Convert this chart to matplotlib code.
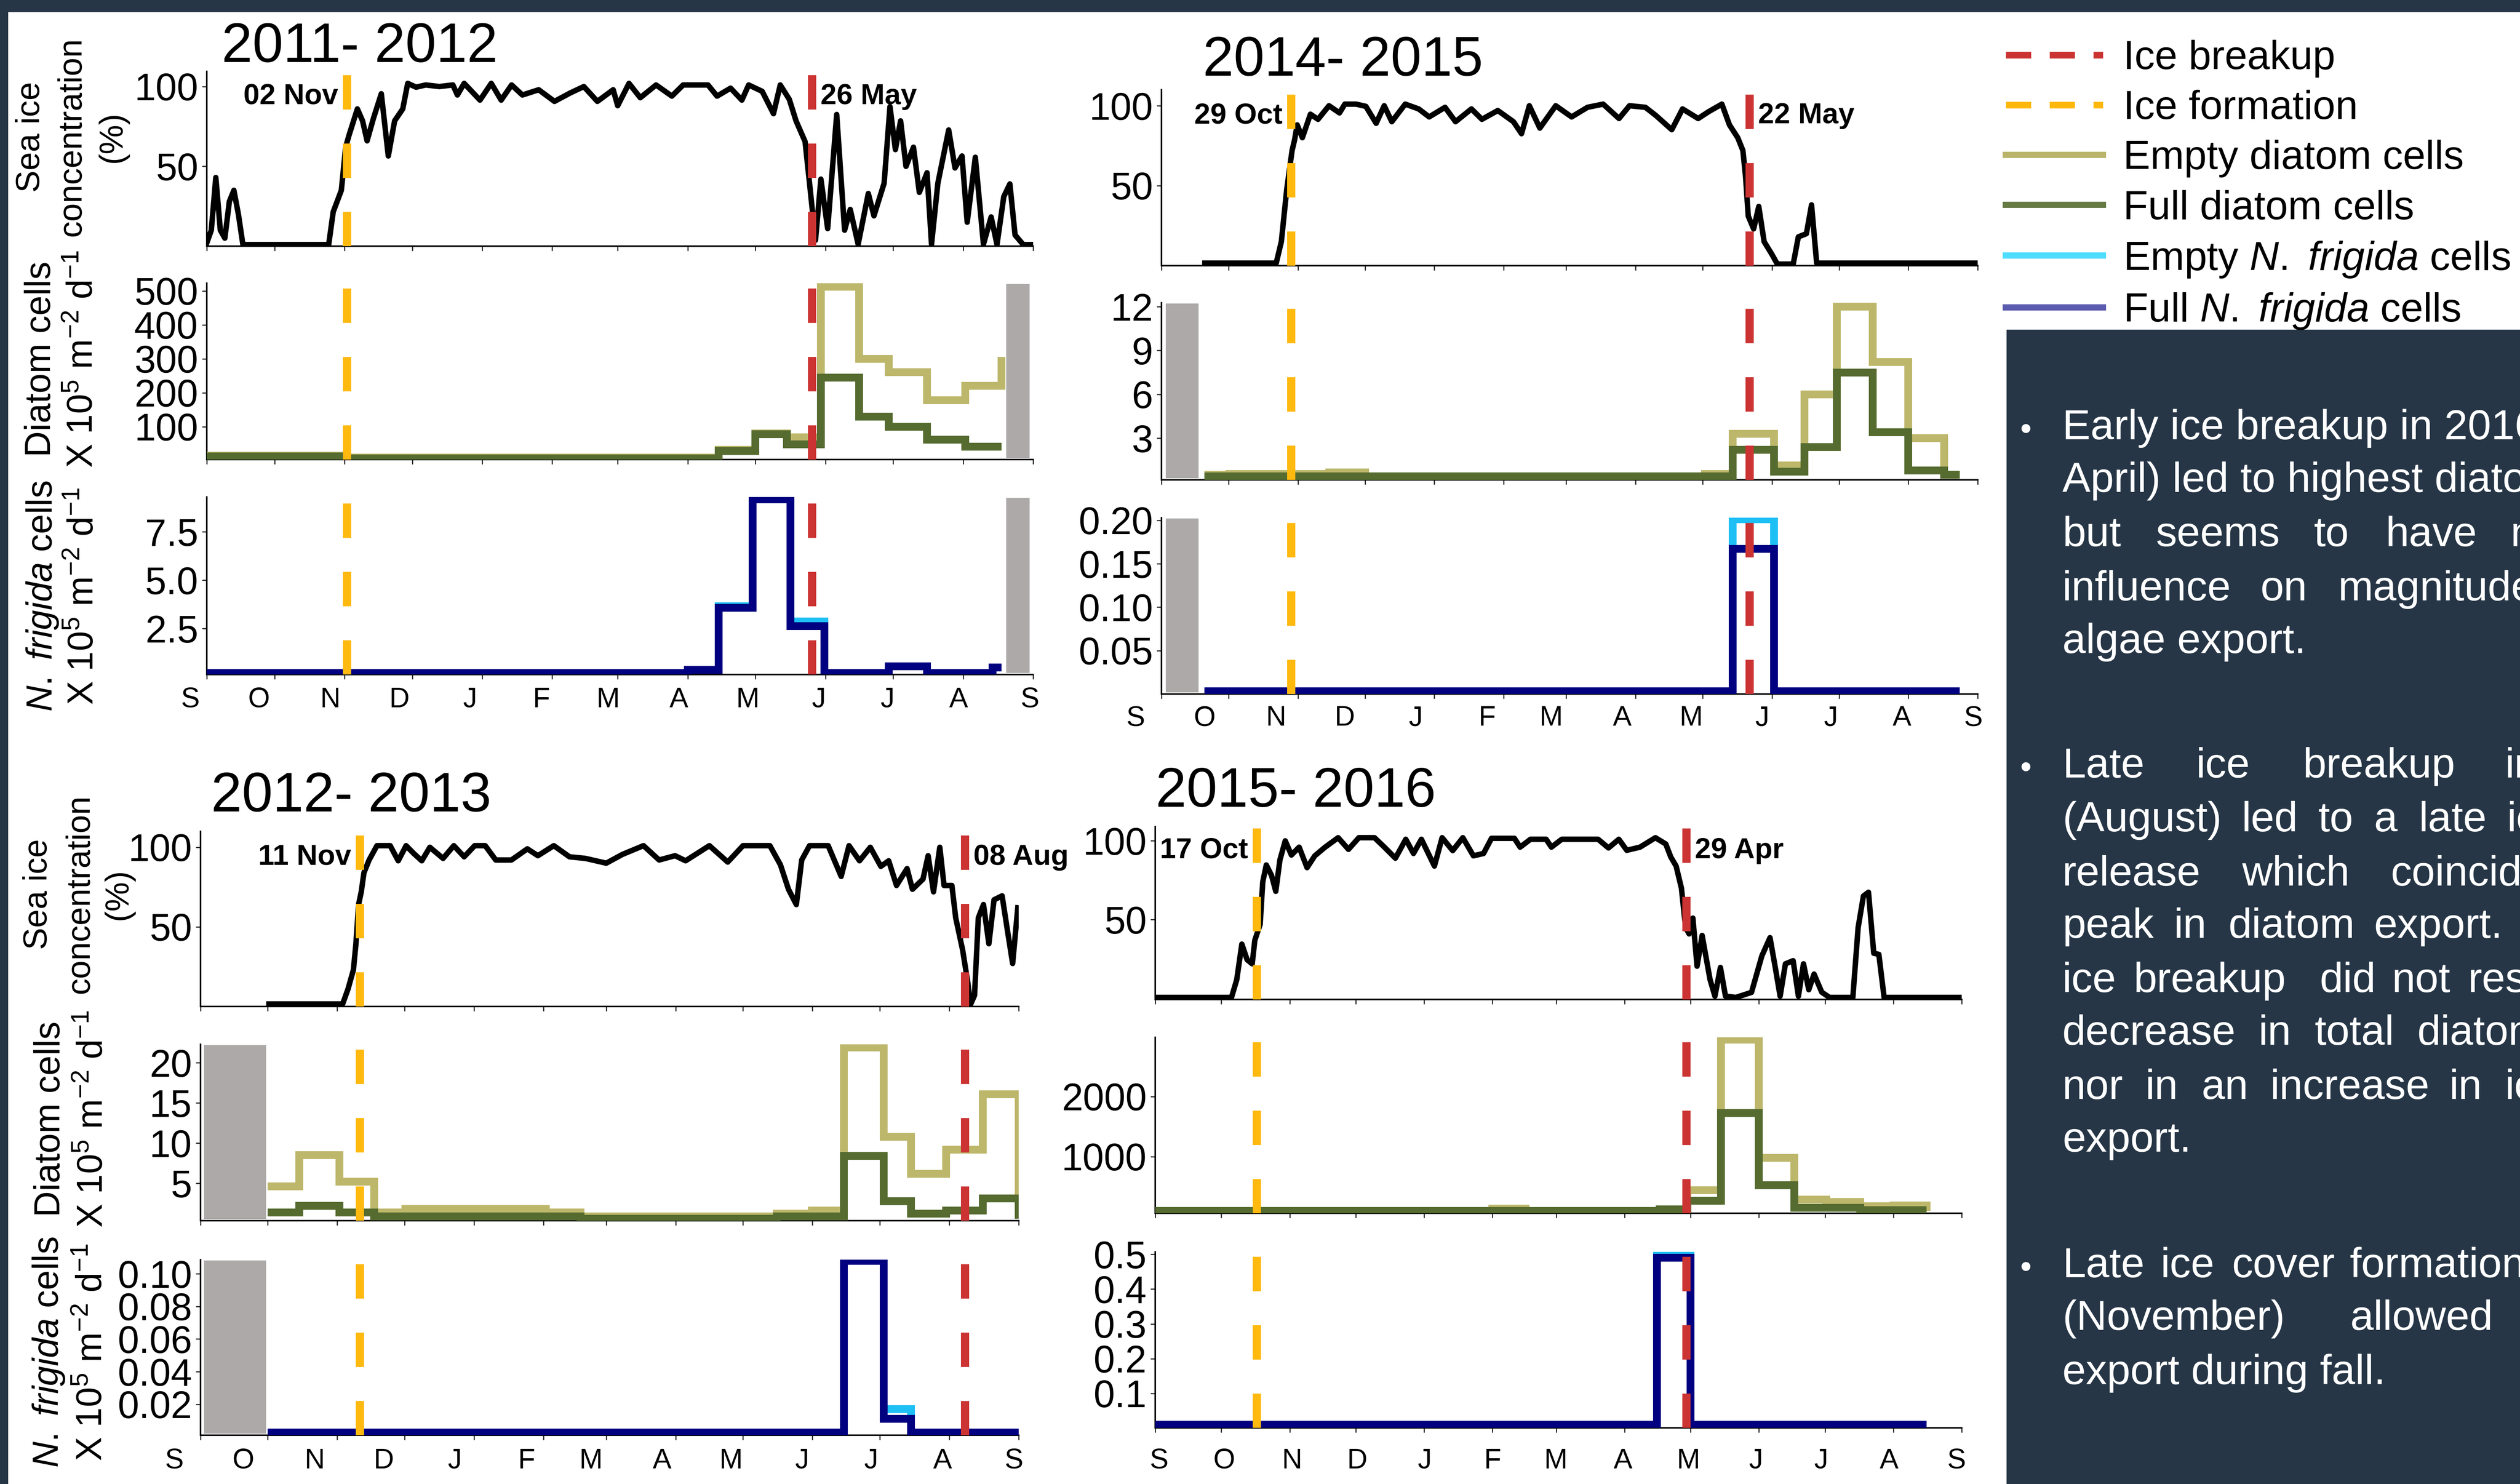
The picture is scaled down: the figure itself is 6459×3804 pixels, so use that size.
import datetime as dt
import matplotlib
matplotlib.use("Agg")
import matplotlib.pyplot as plt
from matplotlib.lines import Line2D
from matplotlib.patches import Rectangle

W, H, DPI = 6459, 3804, 72
plt.rcParams.update({
    'font.family': ['Liberation Sans', 'DejaVu Sans'],
    'mathtext.fontset': 'custom',
    'mathtext.rm': 'Liberation Sans',
    'mathtext.it': 'Liberation Sans:italic',
    'mathtext.bf': 'Liberation Sans:bold',
})

# ------------------------------------------------------------------ data
season_titles = ['2011- 2012', '2014- 2015', '2012- 2013', '2015- 2016']
season_start = [2011, 2014, 2012, 2015]
month_letters = ['S', 'O', 'N', 'D', 'J', 'F', 'M', 'A', 'M', 'J', 'J', 'A', 'S']

formation_dates = ['2011-11-02', '2014-10-29', '2012-11-11', '2015-10-17']
breakup_dates = ['2012-05-26', '2015-05-22', '2013-08-08', '2016-04-29']
formation_labels = ['02 Nov', '29 Oct', '11 Nov', '17 Oct']
breakup_labels = ['26 May', '22 May', '08 Aug', '29 Apr']

# sea ice concentration (%): (days since 1 Sep, value)
ice_2011 = [(0, 2), (2, 10), (4, 43), (6, 10), (8, 5), (10, 28), (12, 35), (14, 20), (16, 1), (54, 1),
            (56, 21.5), (59.6, 35), (61.5, 62), (63, 69.5), (66.7, 86), (69, 78.5), (71, 66), (73.8, 80),
            (77.3, 95.5), (80.4, 56.5), (83.2, 78.5), (86.8, 86), (89, 102), (92.7, 99.6), (97, 101),
            (103, 100), (109, 101), (111, 94.7), (114, 102), (121, 91.5), (126, 102), (130.4, 91.5),
            (135, 101), (139.8, 94.7), (147, 98), (154, 90.7), (161, 96), (167, 100), (173, 90.7),
            (180, 98), (182, 88), (187, 102), (192, 93), (199, 101), (206, 94), (211, 101), (216, 101),
            (222, 101), (226, 94), (232, 99), (237, 91.5), (240, 101), (246, 97), (251, 83), (254, 101),
            (258, 92), (261, 78.5), (265, 65.5), (267, 39), (269.6, 3.7), (272, 42), (275, 11),
            (279, 82.5), (282.5, 10), (285, 23), (288.5, 1.2), (293, 33), (295.5, 19), (300, 39.4),
            (302.6, 87.4), (305, 60.5), (307.3, 78.5), (309.7, 50), (313, 62), (315.6, 33.7), (319, 46),
            (321, 1.2), (323.8, 39.4), (328.6, 72.8), (331.4, 49), (334.5, 56.5), (336.8, 15),
            (340.4, 55.7), (344, 1.2), (347.4, 18.3), (350, 1), (353, 31), (355.7, 39), (358, 7),
            (361.6, 1), (366, 1)]
ice_2014 = [(19.4, 1.6), (51.3, 1.6), (53.6, 15), (56, 47.5), (58.4, 72), (59.5, 78.5), (60.7, 88),
            (63, 80), (66.6, 94.7), (70, 91.5), (74.9, 100), (79.6, 95.5), (82, 101), (87, 101),
            (91.4, 99.6), (96, 89), (99.6, 100), (103, 90), (109, 101), (115, 98), (119.7, 93),
            (126.8, 99), (131.5, 90), (138.6, 98), (143.3, 91.5), (150.4, 97), (157.4, 90), (161, 82.5),
            (164.5, 100), (169.2, 86), (176.3, 100), (183.4, 93), (190.5, 99), (197.5, 101), (204.6, 92),
            (209.3, 100), (216.4, 99), (221, 94), (228.2, 85), (233, 98), (240, 92), (244.7, 96.3),
            (250.6, 101), (254, 88), (257.7, 80), (260, 72), (261.2, 55.7), (262.4, 31), (264.8, 23),
            (267.1, 37), (269.5, 15), (273, 7), (275.4, 1), (282.5, 1), (284.8, 18), (288.4, 20),
            (290.7, 38), (293, 1.6), (365, 1.6)]
ice_2012 = [(30.5, 1.6), (63.4, 1.6), (65.8, 11), (68.2, 23), (69.3, 39), (70.5, 64), (71.7, 72),
            (72.9, 84), (75.2, 92), (78.7, 101), (84.6, 101), (88.2, 91.5), (91.7, 101), (95.2, 96),
            (98.7, 91.5), (102.3, 100), (108.2, 93), (113, 101), (117.6, 94), (122.3, 101), (127, 101),
            (131.7, 92), (138.7, 92), (145.8, 99), (150.5, 94.7), (157.6, 101), (164.6, 94), (171.7, 93),
            (181, 90), (188.2, 95.5), (197.6, 101), (204.6, 92), (211.7, 94.7), (216.4, 91.5), (227, 101),
            (235.2, 90.7), (242, 101), (254, 101), (258.7, 89), (262.3, 73.6), (265.8, 64), (268.2, 92),
            (271.7, 101), (280, 101), (285.8, 81.7), (289.3, 101), (294, 91.5), (298.8, 100), (303.5, 88),
            (307, 91.5), (310.5, 76), (315.2, 86.6), (317.6, 73.6), (322.3, 80), (324.6, 94.7), (327, 72),
            (329.8, 100), (331.7, 76), (335.2, 76), (336.9, 55.7), (340, 35.4), (342.3, 15), (343.5, 1.2),
            (345.3, 7), (347, 55.7), (349.3, 64), (351.7, 39.4), (354, 67), (357.6, 69.5), (360, 47.6),
            (362.3, 27), (364.6, 62)]
ice_2015 = [(0, 0.7), (34.6, 0.7), (37, 12), (39.3, 34.5), (41.7, 24.6), (44, 22), (45.2, 37), (47.6, 47),
            (48.8, 74), (50.4, 84.7), (52.8, 78), (54.7, 68), (56.6, 88), (59, 100), (61.8, 91),
            (65.3, 96), (68.9, 83), (72.4, 90.5), (77.1, 96), (83, 102), (87.7, 94.6), (92.4, 102),
            (99.5, 102), (104, 96), (109, 89), (113.7, 101), (117.2, 92), (120.8, 101), (126.7, 84),
            (130.2, 102), (135, 93.8), (139.6, 102), (144.4, 90.5), (149, 92), (152.6, 101.6),
            (163, 101.6), (165.6, 96), (170.3, 101), (177.4, 101), (179.8, 96), (184.5, 101), (201, 101),
            (205.7, 95.5), (210.4, 101), (214, 94), (220, 96), (227, 102), (231.7, 98), (234, 89.7),
            (236.4, 84), (238.8, 70), (240.7, 45), (242.3, 41), (244, 51), (245.9, 20.5), (248.2, 40),
            (251.8, 12), (254, 1.5), (256.5, 19.7), (258.8, 1.5), (263.5, 0.7), (270.6, 3.9), (275.3, 27),
            (279, 38.6), (281.3, 20.5), (283.6, 1.5), (286, 22), (289.5, 24), (291.9, 1.5), (294.2, 22),
            (296.6, 5.6), (299, 15.5), (302.5, 4), (306, 0.7), (316.6, 0.7), (319, 45), (321.4, 65),
            (323.7, 67.4), (326.1, 28.7), (328.4, 28), (330.8, 0.7), (366, 0.7)]

# sediment trap sample start days (since 1 Sep) and fluxes (x 10^5 cells m-2 d-1)
diatom_days_2011 = [0, 62, 226.7, 243, 257, 272, 289, 302, 319, 336, 352]
diatom_empty_2011 = [14, 9, 32, 80, 69, 513, 300, 261, 178, 221, 306]
diatom_full_2011 = [12, 7, 28, 78, 48, 245, 130, 100, 62, 41, 41]
diatom_days_2014 = [19.2, 30.4, 75, 91, 243, 255.5, 274, 287.6, 302, 318, 334, 350, 357]
diatom_empty_2014 = [0.5, 0.55, 0.65, 0.4, 0.55, 3.3, 1.13, 6.0, 12.0, 8.2, 3.0, 0.5, 0.5]
diatom_full_2014 = [0.4, 0.4, 0.4, 0.4, 0.4, 2.2, 0.7, 2.4, 7.5, 3.4, 0.8, 0.5, 0.5]
diatom_days_2012 = [30, 44, 62, 77.4, 91.4, 154, 169.5, 257, 272.7, 287, 304.7, 317, 332.7, 349, 365]
diatom_empty_2012 = [4.6, 8.5, 5.2, 1.35, 1.8, 1.35, 0.9, 1.2, 1.6, 21.9, 10.8, 6.2, 9.2, 16.1, 1.0]
diatom_full_2012 = [1.35, 2.2, 1.35, 0.9, 0.9, 0.9, 0.6, 0.9, 0.9, 8.4, 2.8, 1.2, 1.6, 3.1, 0.6]
diatom_days_2015 = [0, 153, 168, 229, 241.5, 256.7, 274, 290, 304.6, 320, 335, 350]
diatom_empty_2015 = [94, 134, 94, 120, 441, 2945, 976, 283, 244, 173, 189, 100]
diatom_full_2015 = [94, 94, 94, 120, 268, 1724, 528, 150, 150, 110, 110, 110]

frig_days_2011 = [0, 213, 226.7, 241.8, 258.5, 273.6, 302, 319, 348, 352]
frig_empty_2011 = [0.2, 0.36, 3.65, 9.17, 2.86, 0.2, 0.55, 0.2, 0.48, 0.48]
frig_full_2011 = [0.2, 0.36, 3.57, 9.17, 2.62, 0.2, 0.55, 0.2, 0.48, 0.48]
frig_days_2014 = [19.2, 255.5, 274, 357]
frig_empty_2014 = [0.003, 0.201, 0.003, 0.003]
frig_full_2014 = [0.003, 0.167, 0.003, 0.003]
frig_days_2012 = [30, 287, 304.7, 317, 365]
frig_empty_2012 = [0.0026, 0.108, 0.017, 0.0026, 0.0026]
frig_full_2012 = [0.0026, 0.108, 0.011, 0.0026, 0.0026]
frig_days_2015 = [0, 227.7, 243, 350]
frig_empty_2015 = [0.01, 0.5, 0.01, 0.01]
frig_full_2015 = [0.01, 0.49, 0.01, 0.01]

# periods without trap data (days since 1 Sep)
no_data = [(354, 364.5), (2, 16.6), (1.6, 29.2), None]

dia_ticks = [[100, 200, 300, 400, 500], [3, 6, 9, 12], [5, 10, 15, 20], [1000, 2000]]
frig_ticks = [[2.5, 5.0, 7.5], [0.05, 0.10, 0.15, 0.20], [0.02, 0.04, 0.06, 0.08, 0.10],
              [0.1, 0.2, 0.3, 0.4, 0.5]]
frig_ticklabels = [['2.5', '5.0', '7.5'], ['0.05', '0.10', '0.15', '0.20'],
                   ['0.02', '0.04', '0.06', '0.08', '0.10'], ['0.1', '0.2', '0.3', '0.4', '0.5']]

ice_series = [ice_2011, ice_2014, ice_2012, ice_2015]
dia_series = [(diatom_days_2011, diatom_empty_2011, diatom_full_2011),
              (diatom_days_2014, diatom_empty_2014, diatom_full_2014),
              (diatom_days_2012, diatom_empty_2012, diatom_full_2012),
              (diatom_days_2015, diatom_empty_2015, diatom_full_2015)]
frig_series = [(frig_days_2011, frig_empty_2011, frig_full_2011),
               (frig_days_2014, frig_empty_2014, frig_full_2014),
               (frig_days_2012, frig_empty_2012, frig_full_2012),
               (frig_days_2015, frig_empty_2015, frig_full_2015)]

# ------------------------------------------------------------------ style
DARK = '#263646'
C_BREAK = '#CC3333'
C_FORM = '#FFB90F'
C_EMPTY_D = '#BDB76B'
C_FULL_D = '#556B2F'
C_EMPTY_F = '#1EBFF5'
C_FULL_F = '#000080'
C_GRAY = '#ACA9A8'

# panel layout in pixels: x-range, sea-ice / diatom / frigida y-ranges
layout = [
    dict(x=(530, 2648), ice=(183, 631), dia=(726, 1178), nf=(1274, 1729), title=(922, 159),
         lab=(-0.020, 1.016, 65), ylim=((0, 109.5), (3, 523), (0.12, 9.3))),
    dict(x=(2977, 5069), ice=(230, 681), dia=(776, 1230), nf=(1327, 1779), title=(3442, 194),
         lab=(-0.0315, 1.026, 63), ylim=((0, 110), (0.15, 12.27), (0, 0.203))),
    dict(x=(514, 2611), ice=(2131, 2580), dia=(2677, 3129), nf=(3229, 3679), title=(900, 2080),
         lab=(-0.032, 1.026, 66), ylim=((0, 110), (0.35, 22.3), (0.001, 0.1087))),
    dict(x=(2961, 5028), ice=(2119, 2562), dia=(2659, 3110), nf=(3209, 3660), title=(3321, 2068),
         lab=(0.0045, 0.989, 85), ylim=((-0.6, 109), (58, 2983), (0.001, 0.507))),
]

fig = plt.figure(figsize=(W / DPI, H / DPI), dpi=DPI, facecolor='white')

# slide decorations
fig.patches.append(Rectangle((0, 1 - 30 / H), 1, 30 / H, transform=fig.transFigure,
                             color=DARK, zorder=0))
fig.patches.append(Rectangle((0, 0), 20 / W, 1, transform=fig.transFigure, color=DARK, zorder=0))
fig.patches.append(Rectangle((5143 / W, 0), 1 - 5143 / W, 1 - 845 / H, transform=fig.transFigure,
                             color=DARK, zorder=0))


def add_ax(xr, yr):
    return fig.add_axes([xr[0] / W, 1 - yr[1] / H, (xr[1] - xr[0]) / W, (yr[1] - yr[0]) / H])


def style(ax, ndays, month_days):
    ax.set_facecolor('none')
    for s in ['top', 'right']:
        ax.spines[s].set_visible(False)
    for s in ['left', 'bottom']:
        ax.spines[s].set_linewidth(4)
    ax.set_xlim(0, ndays)
    ax.set_xticks(month_days)
    ax.set_xticklabels([])
    ax.tick_params(axis='both', direction='out', length=12, width=3, color='#333333')
    ax.tick_params(axis='y', labelsize=98, pad=10)


def to_day(s, start):
    return (dt.date.fromisoformat(s) - start).days


STEP_LW = 20
for i in range(4):
    L = layout[i]
    start = dt.date(season_start[i], 9, 1)
    end = dt.date(season_start[i] + 1, 9, 1)
    ndays = (end - start).days
    month_days = []
    for k in range(13):
        y = season_start[i] + (8 + k) // 12
        m = (8 + k) % 12 + 1
        month_days.append((dt.date(y, m, 1) - start).days)
    fday = to_day(formation_dates[i], start)
    bday = to_day(breakup_dates[i], start)

    ax_ice = add_ax(L['x'], L['ice'])
    ax_dia = add_ax(L['x'], L['dia'])
    ax_nf = add_ax(L['x'], L['nf'])
    for ax in (ax_ice, ax_dia, ax_nf):
        style(ax, ndays, month_days)

    # sea ice
    d, v = zip(*ice_series[i])
    ax_ice.plot(d, v, color='black', lw=14, zorder=3, solid_joinstyle='round')
    ax_ice.set_ylim(*L['ylim'][0])
    ax_ice.set_yticks([50, 100])

    # diatoms
    dd, de, df = dia_series[i]
    ax_dia.step(dd, de, where='post', color=C_EMPTY_D, lw=STEP_LW, zorder=3,
                solid_joinstyle='miter', solid_capstyle='butt')
    ax_dia.step(dd, df, where='post', color=C_FULL_D, lw=STEP_LW, zorder=3,
                solid_joinstyle='miter', solid_capstyle='butt')
    ax_dia.set_ylim(*L['ylim'][1])
    ax_dia.set_yticks(dia_ticks[i])

    # N. frigida
    fd, fe, ff = frig_series[i]
    ax_nf.step(fd, fe, where='post', color=C_EMPTY_F, lw=STEP_LW, zorder=3,
               solid_joinstyle='miter', solid_capstyle='butt')
    ax_nf.step(fd, ff, where='post', color=C_FULL_F, lw=STEP_LW, zorder=3,
               solid_joinstyle='miter', solid_capstyle='butt')
    ax_nf.set_ylim(*L['ylim'][2])
    ax_nf.set_yticks(frig_ticks[i])
    ax_nf.set_yticklabels(frig_ticklabels[i])

    if no_data[i] is not None:
        for ax in (ax_dia, ax_nf):
            ax.axvspan(no_data[i][0], no_data[i][1], ymin=0.008, ymax=0.995,
                       color=C_GRAY, lw=0, zorder=1)

    for ax in (ax_ice, ax_dia, ax_nf):
        ax.axvline(fday, color=C_FORM, lw=21, linestyle=(0, (4.2, 4.15)), zorder=5)
        ax.axvline(bday, color=C_BREAK, lw=21, linestyle=(0, (4.2, 4.15)), zorder=5)

    ax_ice.annotate(formation_labels[i], xy=(fday, 89), xytext=(-22, 0), textcoords='offset points',
                    ha='right', va='baseline', fontsize=74, fontweight='bold')
    ax_ice.annotate(breakup_labels[i], xy=(bday, 89), xytext=(22, 0), textcoords='offset points',
                    ha='left', va='baseline', fontsize=74, fontweight='bold')

    # month letters
    a, b, off = L['lab']
    hpx = L['nf'][1] - L['nf'][0]
    for md, lt in zip(month_days, month_letters):
        ax_nf.text(a + b * md / ndays, -off / hpx, lt, transform=ax_nf.transAxes,
                   ha='center', va='center', fontsize=72)

    # title
    fig.text(L['title'][0] / W, 1 - L['title'][1] / H, season_titles[i], ha='center',
             va='baseline', fontsize=142)

# y labels for the left-hand groups
ylabel_sets = [
    (351, 85, [('Sea ice', 79), ('concentration', 184), ('(%)', 289)]),
    (920, 92, [('Diatom cells', 105), ('X 10$^{5}$ m$^{-2}$ d$^{-1}$', 212)]),
    (1528, 92, [('$\\mathit{N.\\ frigida}$ cells', 109), ('X 10$^{5}$ m$^{-2}$ d$^{-1}$', 214)]),
    (2292, 85, [('Sea ice', 98), ('concentration', 205), ('(%)', 304)]),
    (2868, 92, [('Diatom cells', 129), ('X 10$^{5}$ m$^{-2}$ d$^{-1}$', 238)]),
    (3466, 92, [('$\\mathit{N.\\ frigida}$ cells', 125), ('X 10$^{5}$ m$^{-2}$ d$^{-1}$', 236)]),
]
for yc, fs, lines in ylabel_sets:
    for s, xc in lines:
        fig.text(xc / W, 1 - yc / H, s, rotation=90, ha='center', va='center', fontsize=fs)

# legend
handles = [
    Line2D([], [], color='#CB3232', lw=17, linestyle=(0, (3.8, 2.8))),
    Line2D([], [], color='#FFB80A', lw=17, linestyle=(0, (3.8, 2.8))),
    Line2D([], [], color='#B9B46A', lw=16),
    Line2D([], [], color='#667A44', lw=16),
    Line2D([], [], color='#4EDCFF', lw=16),
    Line2D([], [], color='#5B5BAF', lw=16),
]
labels = ['Ice breakup', 'Ice formation', 'Empty diatom cells', 'Full diatom cells',
          'Empty $\\mathit{N.\\ frigida}$ cells', 'Full $\\mathit{N.\\ frigida}$ cells']
fig.legend(handles, labels, loc='upper left', bbox_to_anchor=(5141 / W, 1 - 102 / H),
           frameon=False, fontsize=104, handlelength=2.394, handletextpad=0.5,
           labelspacing=0.3, borderpad=0, borderaxespad=0)

# bullet text panel
bullet_lines = [
    (1126, [(5286, 'Early ice breakup in 2016 (end of')]),
    (1261, [(5286, 'April) led to highest diatom export,')]),
    (1400, [(5286, 'but'), (5525, 'seems'), (5930, 'to'), (6114, 'have'), (6435, 'no')]),
    (1539, [(5286, 'influence'), (5793, 'on'), (5993, 'magnitude')]),
    (1674, [(5286, 'algae export.')]),
    (1993, [(5286, 'Late'), (5629, 'ice'), (5902, 'breakup'), (6421, 'in')]),
    (2131, [(5286, '(August)'), (5746, 'led'), (5941, 'to'), (6084, 'a'), (6200, 'late'), (6426, 'ice')]),
    (2270, [(5286, 'release'), (5746, 'which'), (6127, 'coincided')]),
    (2404, [(5286, 'peak'), (5572, 'in'), (5711, 'diatom'), (6084, 'export.')]),
    (2543, [(5286, 'ice'), (5468, 'breakup'), (5945, 'did'), (6131, 'not'), (6326, 'result')]),
    (2678, [(5286, 'decrease'), (5789, 'in'), (5932, 'total'), (6196, 'diatom')]),
    (2817, [(5286, 'nor'), (5499, 'in'), (5642, 'an'), (5819, 'increase'), (6278, 'in'), (6421, 'ice')]),
    (2952, [(5286, 'export.')]),
    (3274, [(5286, 'Late'), (5538, 'ice'), (5720, 'cover'), (6023, 'formation')]),
    (3409, [(5286, '(November)'), (6023, 'allowed')]),
    (3548, [(5286, 'export during fall.')]),
]
for yb, words in bullet_lines:
    for xw, s in words:
        fig.text(xw / W, 1 - yb / H, s, color='white', fontsize=108, ha='left', va='baseline')
for yb in (1126, 1993, 3274):
    fig.text(5192 / W, 1 - yb / H, '\u2022', color='white', fontsize=84, ha='center', va='baseline')

fig.savefig('out.png', dpi=DPI, facecolor='white')
